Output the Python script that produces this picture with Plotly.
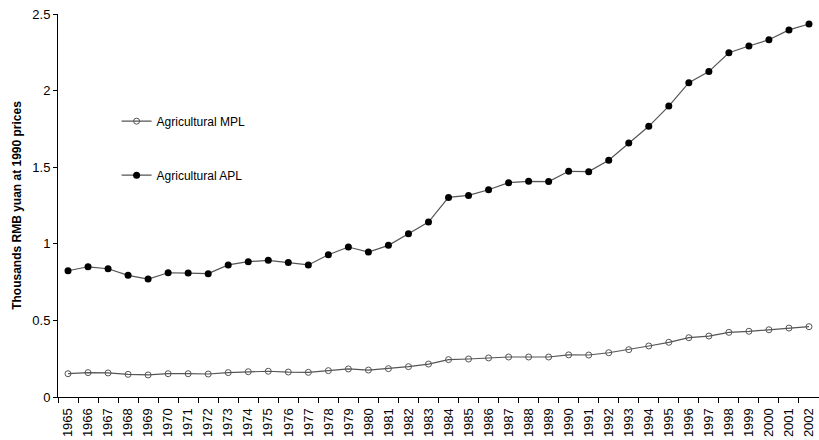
import plotly.graph_objects as go

years = [str(y) for y in range(1965, 2003)]

apl = [0.824, 0.850, 0.837, 0.794, 0.770, 0.811, 0.809, 0.805, 0.862, 0.883,
       0.892, 0.878, 0.862, 0.929, 0.979, 0.946, 0.990, 1.066, 1.142, 1.303,
       1.316, 1.353, 1.399, 1.408, 1.406, 1.473, 1.471, 1.545, 1.658, 1.767,
       1.899, 2.052, 2.124, 2.247, 2.291, 2.332, 2.396, 2.435]

mpl = [0.152, 0.159, 0.157, 0.148, 0.144, 0.152, 0.152, 0.150, 0.159, 0.165,
       0.168, 0.163, 0.161, 0.172, 0.183, 0.176, 0.185, 0.198, 0.215, 0.244,
       0.248, 0.255, 0.261, 0.261, 0.261, 0.275, 0.274, 0.289, 0.309, 0.333,
       0.357, 0.387, 0.398, 0.422, 0.429, 0.439, 0.450, 0.459]

font = "Liberation Sans, Arial, sans-serif"

fig = go.Figure()
fig.add_trace(go.Scatter(
    x=years, y=mpl, name="Agricultural MPL", mode="lines+markers",
    legendgroup="mpl",
    line=dict(color="#555555", width=1.2),
    marker=dict(symbol="circle-open", size=6, color="#555555", line=dict(width=1)),
))
fig.add_trace(go.Scatter(
    x=years, y=apl, name="Agricultural APL", mode="lines+markers",
    legendgroup="apl",
    line=dict(color="#555555", width=1.2),
    marker=dict(symbol="circle", size=7, color="black"),
))

fig.update_layout(
    width=819, height=440,
    margin=dict(l=58, r=0, t=14, b=43),
    paper_bgcolor="white", plot_bgcolor="white",
    font=dict(family=font, color="black", size=12),
    showlegend=True,
    legend=dict(x=0.077, y=0.758, xanchor="left", yanchor="top",
                traceorder="grouped", tracegroupgap=35,
                bgcolor="rgba(0,0,0,0)", font=dict(size=12, family=font)),
    xaxis=dict(type="category", range=[-0.5, 37.5], tickson="boundaries",
               ticks="outside", ticklen=5, tickcolor="black",
               ticklabelstandoff=5,
               showline=True, linecolor="black", linewidth=1,
               showgrid=False, tickangle=-90, tickfont=dict(size=13),
               zeroline=False, automargin=False),
    yaxis=dict(range=[0, 2.5], tickvals=[0, 0.5, 1, 1.5, 2, 2.5],
               ticktext=["0", "0.5", "1", "1.5", "2", "2.5"],
               ticks="outside", ticklen=4, tickcolor="black",
               showline=True, linecolor="black", linewidth=1,
               showgrid=False, zeroline=False, tickfont=dict(size=13),
               automargin=False,
               title=dict(text="<b>Thousands RMB yuan at 1990 prices</b>",
                          font=dict(size=12), standoff=8)),
)

fig.write_html("out.html", config={"displayModeBar": False},
               post_script="document.body.style.margin='0';document.body.style.overflow='hidden';")
